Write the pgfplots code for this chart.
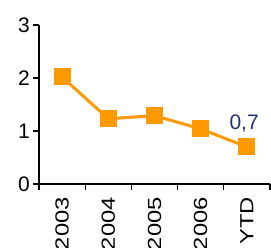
\documentclass[border=0pt]{standalone}
\usepackage{pgfplots}
\pgfplotsset{compat=1.18}
\usepackage{fontspec}
\setmainfont{Liberation Sans}
\definecolor{orng}{HTML}{FF9900}
\definecolor{navy}{HTML}{1F3372}
\begin{document}
\begin{tikzpicture}
\begin{axis}[
  name=ax,
  scale only axis,
  width=231pt, height=159pt,
  xmin=-0.5, xmax=4.5, ymin=0, ymax=3,
  axis x line*=bottom, axis y line*=left,
  axis line style={line width=1.2pt, -},
  xtick={-0.5,0.5,1.5,2.5,3.5,4.5},
  xticklabels={},
  extra x ticks={0,1,2,3,4},
  extra x tick style={major tick length=0pt, tick style={draw=none}},
  extra x tick labels={\scalebox{1.25}[1]{2003},\scalebox{1.25}[1]{2004},\scalebox{1.25}[1]{2005},\scalebox{1.25}[1]{2006},\scalebox{1.25}[1]{YTD}},
  ytick={0,1,2,3},
  tick style={line width=1.2pt, black},
  major tick length=6pt,
  tick align=outside,
  x tick label style={rotate=90, anchor=east, font=\fontsize{19}{19}\selectfont, inner sep=0pt, xshift=-13pt},
  y tick label style={font=\fontsize{21}{21}\selectfont, inner sep=3pt},
  /pgf/number format/assume math mode=true,
  clip=false,
]
\addplot[orng, line width=3pt, mark=square*, mark size=7pt, mark options={solid, fill=orng, draw=orng}]
  coordinates {(0,2.02) (1,1.23) (2,1.29) (3,1.04) (4,0.70)};
\node[navy, anchor=south west, font=\fontsize{21}{21}\selectfont, inner sep=0pt] at (axis cs:3.62,0.98) {0,7};
\end{axis}
\pgfresetboundingbox
\path[use as bounding box] ([shift={(-39pt,-63pt)}]ax.south west) rectangle ([shift={(1pt,25pt)}]ax.north east);
\end{tikzpicture}
\end{document}
